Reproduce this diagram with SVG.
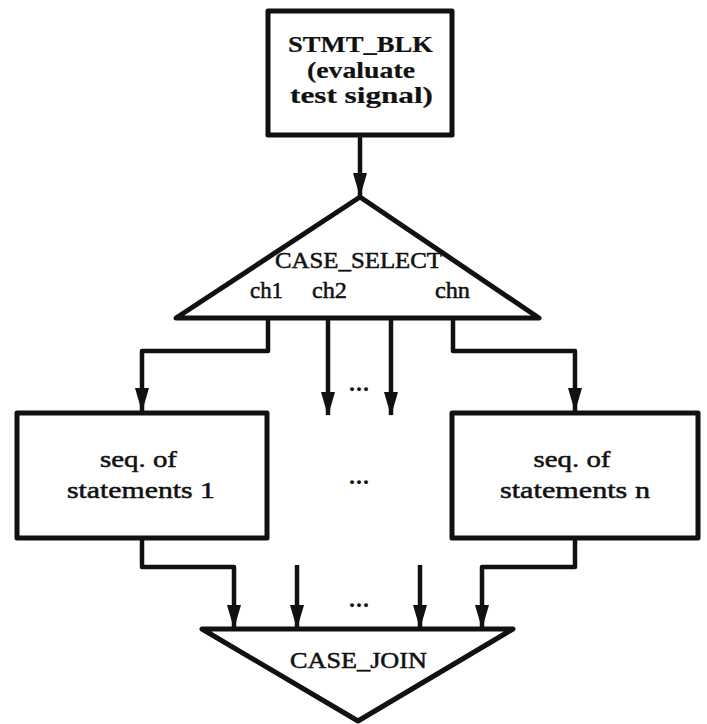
<svg xmlns="http://www.w3.org/2000/svg" width="707" height="724" viewBox="0 0 707 724">
  <style>
    .box { fill: #fff; stroke: #111; stroke-width: 5; stroke-linejoin: round; }
    .tri { fill: #fff; stroke: #111; stroke-width: 5; stroke-linejoin: round; }
    .wire { fill: none; stroke: #111; stroke-width: 4.5; stroke-linejoin: round; }
    text { fill: #111; text-anchor: middle; font-family: "Liberation Serif", "DejaVu Serif", serif; }
    .lbl { font-size: 23px; stroke: #111; stroke-width: 0.5; }
    .bold { font-weight: bold; font-size: 24px; stroke: #111; stroke-width: 0.2; }
    .dots { font-weight: bold; font-size: 24px; }
  </style>
  <defs>
    <marker id="arrow" markerUnits="userSpaceOnUse" markerWidth="24" markerHeight="14" refX="23" refY="7" orient="auto" viewBox="0 0 24 14">
      <path d="M0,0 L24,7 L0,14 Z" fill="#111"/>
    </marker>
  </defs>

  <rect width="707" height="724" fill="#fff"/>

  <!-- connectors -->
  <g id="connectors">
    <path class="wire" d="M360,135 V196" marker-end="url(#arrow)"/>
    <!-- CASE_SELECT outputs -->
    <path class="wire" d="M268,318 V351 H142 V411" marker-end="url(#arrow)"/>
    <path class="wire" d="M328,318 V415" marker-end="url(#arrow)"/>
    <path class="wire" d="M391,318 V415" marker-end="url(#arrow)"/>
    <path class="wire" d="M453,318 V351 H575 V411" marker-end="url(#arrow)"/>
    <!-- CASE_JOIN inputs -->
    <path class="wire" d="M142,539 V567 H234 V628" marker-end="url(#arrow)"/>
    <path class="wire" d="M297,565 V628" marker-end="url(#arrow)"/>
    <path class="wire" d="M420,565 V628" marker-end="url(#arrow)"/>
    <path class="wire" d="M575,539 V567 H482 V628" marker-end="url(#arrow)"/>
  </g>

  <g id="stmt_blk">
    <rect class="box" x="268" y="11" width="184" height="124"/>
    <text class="bold" x="360.5" y="52" textLength="145" lengthAdjust="spacingAndGlyphs">STMT_BLK</text>
    <text class="bold" x="361" y="78" textLength="108" lengthAdjust="spacingAndGlyphs">(evaluate</text>
    <text class="bold" x="361.5" y="103" textLength="143" lengthAdjust="spacingAndGlyphs">test signal)</text>
  </g>

  <g id="case_select">
    <polygon class="tri" points="176,318 360,197 539,318"/>
    <text class="lbl" x="358.5" y="268" textLength="167" lengthAdjust="spacingAndGlyphs">CASE_SELECT</text>
    <text class="lbl" x="266.5" y="298" textLength="33" lengthAdjust="spacingAndGlyphs">ch1</text>
    <text class="lbl" x="329.5" y="298" textLength="35" lengthAdjust="spacingAndGlyphs">ch2</text>
    <text class="lbl" x="452.5" y="298" textLength="35" lengthAdjust="spacingAndGlyphs">chn</text>
  </g>

  <g id="seq1">
    <rect class="box" x="17" y="413" width="250" height="125"/>
    <text class="lbl" x="138.5" y="467" textLength="77" lengthAdjust="spacingAndGlyphs">seq. of</text>
    <text class="lbl" x="141" y="498" textLength="148" lengthAdjust="spacingAndGlyphs">statements 1</text>
  </g>

  <g id="seqn">
    <rect class="box" x="452" y="413" width="246" height="125"/>
    <text class="lbl" x="572" y="467" textLength="77" lengthAdjust="spacingAndGlyphs">seq. of</text>
    <text class="lbl" x="575" y="498" textLength="150" lengthAdjust="spacingAndGlyphs">statements n</text>
  </g>

  <g id="ellipses">
    <text class="dots" x="359" y="391" textLength="20" lengthAdjust="spacing">...</text>
    <text class="dots" x="359" y="484" textLength="20" lengthAdjust="spacing">...</text>
    <text class="dots" x="359" y="607" textLength="20" lengthAdjust="spacing">...</text>
  </g>

  <g id="case_join">
    <polygon class="tri" points="202,629 513,629 358,721"/>
    <text class="lbl" x="358.5" y="668" textLength="137" lengthAdjust="spacingAndGlyphs">CASE_JOIN</text>
  </g>
</svg>
